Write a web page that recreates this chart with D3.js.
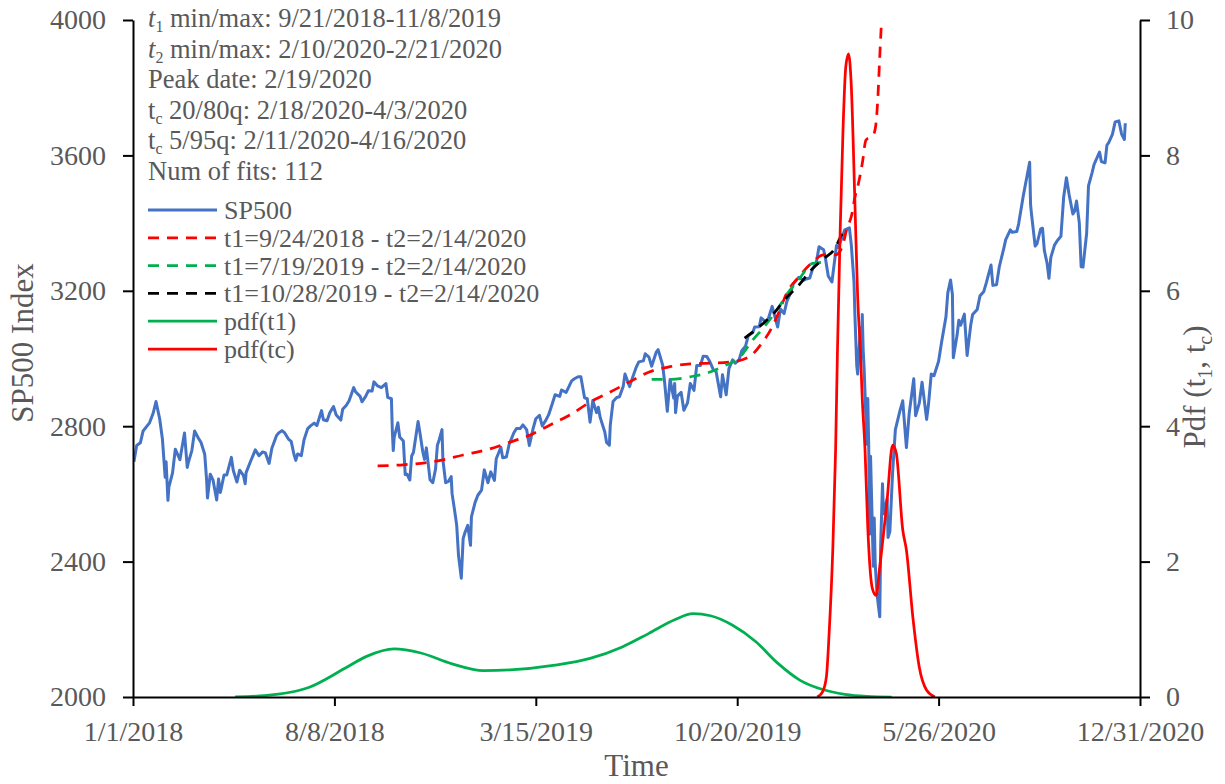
<!DOCTYPE html>
<html>
<head>
<meta charset="utf-8">
<script src="https://cdn.jsdelivr.net/npm/d3@7"></script>
<style>
body { margin: 0; background: #fff; }
svg text { font-family: "Liberation Serif", "Times New Roman", serif; fill: #595959; }
</style>
</head>
<body>
<script>
var width = 1225, height = 784;
// plot box (window.top is taken, so no "top" here)
var plotL = 133, plotR = 1140, plotT = 20, plotB = 697;

// tick values (excel style, every 219 days)
var xTickDates = ["2018-01-01","2018-08-08","2019-03-15","2019-10-20","2020-05-26","2020-12-31"];
var leftTicks = [2000,2400,2800,3200,3600,4000];
var rightTicks = [0,2,4,6,8,10];

// SP500 closes
var sp500 = [
["2018-01-02",2695],["2018-01-05",2743],["2018-01-09",2751],["2018-01-12",2786],["2018-01-17",2803],["2018-01-19",2810],
["2018-01-23",2839],["2018-01-26",2873],["2018-01-30",2822],["2018-02-02",2762],["2018-02-05",2649],["2018-02-06",2695],
["2018-02-08",2581],["2018-02-09",2620],["2018-02-13",2662],["2018-02-16",2732],["2018-02-21",2701],["2018-02-26",2780],
["2018-03-01",2678],["2018-03-02",2691],["2018-03-06",2728],["2018-03-09",2786],["2018-03-13",2765],["2018-03-16",2752],
["2018-03-20",2717],["2018-03-22",2643],["2018-03-23",2588],["2018-03-26",2658],["2018-03-29",2641],["2018-04-02",2582],
["2018-04-04",2644],["2018-04-06",2604],["2018-04-10",2656],["2018-04-13",2656],["2018-04-18",2708],["2018-04-20",2670],
["2018-04-24",2635],["2018-04-27",2670],["2018-05-01",2655],["2018-05-03",2630],["2018-05-04",2663],["2018-05-09",2697],
["2018-05-14",2730],["2018-05-18",2713],["2018-05-22",2724],["2018-05-25",2721],["2018-05-29",2690],["2018-06-01",2735],
["2018-06-06",2772],["2018-06-08",2779],["2018-06-12",2787],["2018-06-15",2780],["2018-06-19",2762],["2018-06-22",2755],
["2018-06-25",2717],["2018-06-27",2699],["2018-06-29",2718],["2018-07-03",2713],["2018-07-06",2760],["2018-07-10",2793],
["2018-07-13",2801],["2018-07-17",2809],["2018-07-20",2802],["2018-07-25",2846],["2018-07-27",2819],["2018-07-31",2816],
["2018-08-03",2840],["2018-08-07",2858],["2018-08-10",2833],["2018-08-15",2818],["2018-08-17",2850],["2018-08-21",2862],
["2018-08-24",2875],["2018-08-29",2914],["2018-08-31",2902],["2018-09-05",2888],["2018-09-07",2872],["2018-09-11",2888],
["2018-09-14",2905],["2018-09-18",2904],["2018-09-20",2931],["2018-09-24",2919],["2018-09-28",2914],["2018-10-03",2926],
["2018-10-05",2885],["2018-10-09",2881],["2018-10-10",2785],["2018-10-11",2728],["2018-10-12",2767],["2018-10-16",2810],
["2018-10-18",2768],["2018-10-22",2756],["2018-10-24",2657],["2018-10-26",2658],["2018-10-29",2641],["2018-10-31",2712],
["2018-11-02",2723],["2018-11-07",2814],["2018-11-09",2781],["2018-11-12",2726],["2018-11-14",2702],["2018-11-16",2736],
["2018-11-20",2642],["2018-11-23",2633],["2018-11-26",2674],["2018-11-28",2744],["2018-11-30",2760],["2018-12-03",2790],
["2018-12-04",2700],["2018-12-07",2633],["2018-12-10",2637],["2018-12-13",2651],["2018-12-14",2600],["2018-12-17",2546],
["2018-12-19",2507],["2018-12-21",2417],["2018-12-24",2351],["2018-12-26",2468],["2018-12-28",2486],["2018-12-31",2507],
["2019-01-03",2448],["2019-01-04",2532],["2019-01-08",2575],["2019-01-11",2596],["2019-01-15",2611],["2019-01-18",2671],
["2019-01-22",2633],["2019-01-25",2665],["2019-01-29",2640],["2019-01-31",2704],["2019-02-05",2738],["2019-02-07",2707],
["2019-02-11",2709],["2019-02-14",2746],["2019-02-19",2780],["2019-02-22",2793],["2019-02-26",2793],["2019-03-01",2804],
["2019-03-05",2790],["2019-03-08",2743],["2019-03-12",2792],["2019-03-15",2822],["2019-03-19",2832],["2019-03-22",2801],
["2019-03-26",2818],["2019-03-29",2834],["2019-04-02",2867],["2019-04-05",2893],["2019-04-10",2888],["2019-04-12",2907],
["2019-04-17",2900],["2019-04-23",2934],["2019-04-26",2940],["2019-04-30",2946],["2019-05-03",2946],["2019-05-07",2884],
["2019-05-10",2881],["2019-05-13",2812],["2019-05-16",2876],["2019-05-20",2840],["2019-05-22",2856],["2019-05-24",2826],
["2019-05-29",2783],["2019-05-31",2752],["2019-06-03",2744],["2019-06-04",2803],["2019-06-07",2873],["2019-06-11",2885],
["2019-06-14",2887],["2019-06-18",2917],["2019-06-20",2954],["2019-06-25",2917],["2019-06-28",2942],["2019-07-02",2973],
["2019-07-05",2990],["2019-07-10",2993],["2019-07-12",3014],["2019-07-16",3004],["2019-07-19",2977],["2019-07-24",3019],
["2019-07-26",3026],["2019-07-31",2980],["2019-08-02",2932],["2019-08-05",2844],["2019-08-08",2938],["2019-08-12",2883],
["2019-08-13",2926],["2019-08-14",2840],["2019-08-16",2889],["2019-08-20",2900],["2019-08-23",2847],["2019-08-27",2869],
["2019-08-30",2926],["2019-09-03",2906],["2019-09-06",2979],["2019-09-10",2979],["2019-09-13",3007],["2019-09-17",3006],
["2019-09-20",2992],["2019-09-24",2967],["2019-09-27",2962],["2019-10-02",2887],["2019-10-04",2952],["2019-10-08",2893],
["2019-10-11",2970],["2019-10-15",2996],["2019-10-18",2986],["2019-10-22",2996],["2019-10-25",3023],["2019-10-29",3036],
["2019-11-01",3067],["2019-11-06",3077],["2019-11-08",3093],["2019-11-13",3094],["2019-11-15",3120],["2019-11-20",3108],
["2019-11-22",3110],["2019-11-27",3154],["2019-12-03",3093],["2019-12-06",3146],["2019-12-10",3133],["2019-12-13",3169],
["2019-12-17",3193],["2019-12-20",3221],["2019-12-26",3240],["2019-12-31",3231],["2020-01-03",3235],["2020-01-07",3238],
["2020-01-10",3265],["2020-01-14",3283],["2020-01-17",3330],["2020-01-22",3321],["2020-01-24",3295],["2020-01-27",3244],
["2020-01-31",3226],["2020-02-05",3334],["2020-02-07",3328],["2020-02-11",3358],["2020-02-14",3380],["2020-02-19",3386],
["2020-02-21",3338],["2020-02-24",3226],["2020-02-25",3128],["2020-02-27",2979],["2020-02-28",2954],["2020-03-02",3091],
["2020-03-03",3003],["2020-03-04",3130],["2020-03-05",3024],["2020-03-06",2972],["2020-03-09",2747],["2020-03-10",2882],
["2020-03-11",2741],["2020-03-12",2481],["2020-03-13",2711],["2020-03-16",2386],["2020-03-17",2529],["2020-03-18",2398],
["2020-03-20",2305],["2020-03-23",2237],["2020-03-24",2447],["2020-03-26",2630],["2020-03-27",2541],["2020-03-31",2585],
["2020-04-01",2471],["2020-04-03",2489],["2020-04-06",2664],["2020-04-09",2790],["2020-04-14",2846],["2020-04-17",2875],
["2020-04-21",2737],["2020-04-24",2837],["2020-04-29",2940],["2020-05-01",2831],["2020-05-05",2868],["2020-05-08",2930],
["2020-05-13",2820],["2020-05-15",2864],["2020-05-18",2954],["2020-05-21",2949],["2020-05-26",2992],["2020-05-29",3044],
["2020-06-03",3123],["2020-06-05",3194],["2020-06-08",3232],["2020-06-10",3190],["2020-06-11",3002],["2020-06-15",3067],
["2020-06-17",3113],["2020-06-19",3098],["2020-06-23",3131],["2020-06-26",3009],["2020-06-30",3100],["2020-07-02",3130],
["2020-07-07",3145],["2020-07-10",3185],["2020-07-14",3197],["2020-07-17",3225],["2020-07-22",3276],["2020-07-24",3216],
["2020-07-28",3218],["2020-07-31",3271],["2020-08-05",3327],["2020-08-07",3351],["2020-08-12",3380],["2020-08-14",3373],
["2020-08-19",3375],["2020-08-21",3397],["2020-08-26",3479],["2020-08-28",3508],["2020-09-02",3580],["2020-09-03",3455],
["2020-09-04",3427],["2020-09-08",3332],["2020-09-10",3339],["2020-09-14",3383],["2020-09-16",3385],["2020-09-18",3319],
["2020-09-21",3281],["2020-09-23",3237],["2020-09-25",3298],["2020-09-29",3335],["2020-10-02",3348],["2020-10-06",3361],
["2020-10-09",3477],["2020-10-12",3534],["2020-10-15",3483],["2020-10-19",3427],["2020-10-21",3436],["2020-10-23",3465],
["2020-10-26",3401],["2020-10-28",3271],["2020-10-30",3270],["2020-11-03",3370],["2020-11-05",3510],["2020-11-09",3550],
["2020-11-11",3573],["2020-11-13",3585],["2020-11-17",3610],["2020-11-19",3582],["2020-11-23",3578],["2020-11-25",3630],
["2020-11-27",3638],["2020-12-01",3662],["2020-12-04",3699],["2020-12-08",3702],["2020-12-11",3663],["2020-12-14",3647],
["2020-12-15",3695]
];

// fitted curves (left axis)
var fitRed = [
["2018-09-24",2683],["2018-10-22",2686],["2018-11-27",2697],["2018-12-26",2715],["2019-01-24",2733],["2019-02-15",2753],
["2019-03-09",2774],["2019-03-30",2803],["2019-04-21",2833],["2019-05-13",2871],["2019-06-04",2901],["2019-06-25",2931],
["2019-07-17",2961],["2019-08-08",2976],["2019-08-30",2984],["2019-09-20",2986],["2019-10-14",2990],["2019-11-02",3005],
["2019-11-16",3046],["2019-11-27",3093],["2019-12-04",3135],["2019-12-13",3194],["2019-12-26",3241],["2020-01-09",3282],
["2020-01-22",3306],["2020-02-04",3306],["2020-02-11",3329],["2020-02-16",3380],["2020-02-22",3430],["2020-02-25",3477],
["2020-02-28",3507],["2020-03-04",3576],["2020-03-08",3645],["2020-03-16",3660],["2020-03-19",3696],["2020-03-21",3773],
["2020-03-23",3891],["2020-03-25",4002]
];
var fitGreen = [
["2019-07-19",2938],["2019-08-08",2938],["2019-08-30",2946],["2019-09-17",2957],["2019-10-04",2976],["2019-10-23",3005],
["2019-11-06",3055],["2019-11-17",3089],["2019-12-02",3143],["2019-12-14",3193],["2019-12-27",3237],["2020-01-10",3281],
["2020-01-27",3285]
];
var fitBlack = [
["2019-10-28",3060],["2019-11-14",3096],["2019-11-29",3134],["2019-12-11",3175],["2019-12-27",3220],["2020-01-08",3260],
["2020-01-23",3297],["2020-02-02",3320],["2020-02-12",3372],["2020-02-15",3383]
];

// densities (right axis)
var pdfT1 = [
["2018-04-22",0],["2018-05-24",0.02],["2018-07-11",0.14],["2018-08-19",0.42],["2018-09-12",0.6],["2018-10-12",0.71],
["2018-11-10",0.65],["2018-12-14",0.49],["2019-01-17",0.39],["2019-02-15",0.4],["2019-04-05",0.47],["2019-05-13",0.57],
["2019-06-17",0.74],["2019-07-16",0.94],["2019-08-13",1.14],["2019-09-02",1.23],["2019-09-21",1.2],["2019-10-15",1.06],
["2019-11-09",0.82],["2019-12-03",0.5],["2019-12-27",0.25],["2020-01-21",0.11],["2020-02-14",0.04],["2020-03-09",0.01],
["2020-04-05",0]
];
var pdfTc = [
["2020-01-15",0],["2020-01-21",0.08],["2020-01-25",0.3],["2020-01-28",0.95],["2020-02-01",2.2],["2020-02-04",3.65],
["2020-02-06",5.1],["2020-02-09",6.9],["2020-02-12",8.35],["2020-02-15",9.3],["2020-02-18",9.5],["2020-02-21",9.05],
["2020-02-25",7.3],["2020-02-28",5.9],["2020-03-02",5.1],["2020-03-04",4.4],["2020-03-07",3.65],["2020-03-10",2.5],
["2020-03-15",1.6],["2020-03-19",1.5],["2020-03-23",1.92],["2020-03-31",2.91],["2020-04-06",3.72],["2020-04-10",3.6],
["2020-04-17",2.47],["2020-04-21",2.17],["2020-04-28",1.18],["2020-05-05",0.44],["2020-05-13",0.1],["2020-05-22",0]
];

// text block top-left: [text, kind]
var infoLines = [
  [["t","it"],["1","sub"],[" min/max: 9/21/2018-11/8/2019",""]],
  [["t","it"],["2","sub"],[" min/max: 2/10/2020-2/21/2020",""]],
  [["Peak date: 2/19/2020",""]],
  [["t",""],["c","sub"],[" 20/80q: 2/18/2020-4/3/2020",""]],
  [["t",""],["c","sub"],[" 5/95q: 2/11/2020-4/16/2020",""]],
  [["Num of fits: 112",""]]
];
var legendLabels = ["SP500","t1=9/24/2018 - t2=2/14/2020","t1=7/19/2019 - t2=2/14/2020","t1=10/28/2019 - t2=2/14/2020","pdf(t1)","pdf(tc)"];

var parse = d3.timeParse("%Y-%m-%d");

var x = d3.scaleTime()
    .domain([parse("2018-01-01"), parse("2020-12-31")])
    .range([plotL, plotR]);
var y = d3.scaleLinear().domain([2000, 4000]).range([plotB, plotT]);
var y2 = d3.scaleLinear().domain([0, 10]).range([plotB, plotT]);

var svg = d3.select("body").append("svg")
    .attr("width", width)
    .attr("height", height);

svg.append("clipPath").attr("id", "plot")
  .append("rect")
    .attr("x", plotL).attr("y", plotT)
    .attr("width", plotR - plotL).attr("height", plotB - plotT);

var lineL = d3.line()
    .x(function(d){ return x(parse(d[0])); })
    .y(function(d){ return y(d[1]); });
var smoothL = d3.line()
    .curve(d3.curveMonotoneX)
    .x(function(d){ return x(parse(d[0])); })
    .y(function(d){ return y(d[1]); });
var smoothR = d3.line()
    .curve(d3.curveMonotoneX)
    .x(function(d){ return x(parse(d[0])); })
    .y(function(d){ return y2(d[1]); });

var g = svg.append("g").attr("clip-path", "url(#plot)");

// styles for the six series, same order as the legend
var styles = [
  {color: "#4472C4", dash: null},
  {color: "#FF0000", dash: "11,8"},
  {color: "#00B050", dash: "11,8"},
  {color: "#000000", dash: "11,8"},
  {color: "#00B050", dash: null},
  {color: "#FF0000", dash: null}
];

g.append("path").datum(sp500)
    .attr("d", lineL)
    .attr("fill", "none")
    .attr("stroke", styles[0].color)
    .attr("stroke-width", 3)
    .attr("stroke-linejoin", "round");

[fitRed, fitGreen, fitBlack].forEach(function(fit, i){
  g.append("path").datum(fit)
    .attr("d", smoothL)
    .attr("fill", "none")
    .attr("stroke", styles[i+1].color)
    .attr("stroke-width", 2.75)
    .attr("stroke-dasharray", styles[i+1].dash);
});

[pdfT1, pdfTc].forEach(function(pdf, i){
  g.append("path").datum(pdf)
    .attr("d", smoothR)
    .attr("fill", "none")
    .attr("stroke", styles[i+4].color)
    .attr("stroke-width", 2.75);
});

// axes
function styleAxis(sel){
  sel.attr("font-family", null).attr("font-size", null);
  sel.selectAll(".domain").attr("stroke", "#000").attr("stroke-width", 2);
  sel.selectAll(".tick line").attr("stroke", "#000").attr("stroke-width", 2);
  sel.selectAll(".tick text").style("font-size", "28px").attr("fill", "#595959");
}

svg.append("g")
    .attr("transform", "translate(" + plotL + ",0)")
    .call(d3.axisLeft(y).tickValues(leftTicks).tickFormat(d3.format("d"))
        .tickSizeInner(10).tickSizeOuter(0).tickPadding(17))
    .call(styleAxis);

svg.append("g")
    .attr("transform", "translate(" + plotR + ",0)")
    .call(d3.axisRight(y2).tickValues(rightTicks).tickFormat(d3.format("d"))
        .tickSizeInner(10).tickSizeOuter(0).tickPadding(16))
    .call(styleAxis);

svg.append("g")
    .attr("transform", "translate(0," + plotB + ")")
    .call(d3.axisBottom(x).tickValues(xTickDates.map(parse))
        .tickFormat(d3.timeFormat("%-m/%-d/%Y"))
        .tickSizeInner(9).tickSizeOuter(0).tickPadding(15))
    .call(styleAxis);

// axis titles
svg.append("text")
    .attr("x", (plotL + plotR) / 2)
    .attr("y", 776)
    .attr("text-anchor", "middle")
    .style("font-size", "31px")
    .text("Time");

svg.append("text")
    .attr("transform", "translate(33,343) rotate(-90)")
    .attr("text-anchor", "middle")
    .style("font-size", "31px")
    .text("SP500 Index");

var rt = svg.append("text")
    .attr("transform", "translate(1205,387) rotate(-90)")
    .attr("text-anchor", "middle")
    .style("font-size", "31px");
rt.append("tspan").text("Pdf (t");
rt.append("tspan").attr("dy", 7).style("font-size", "20px").text("1");
rt.append("tspan").attr("dy", -7).text(", t");
rt.append("tspan").attr("dy", 7).style("font-size", "20px").text("c");
rt.append("tspan").attr("dy", -7).text(")");

// info text
infoLines.forEach(function(parts, i){
  var t = svg.append("text")
      .attr("x", 148)
      .attr("y", 27 + i * 30.6)
      .style("font-size", "26.5px")
      .style("white-space", "pre");
  var shifted = false;
  parts.forEach(function(p){
    var s = t.append("tspan").text(p[0]);
    if (p[1] == "it") s.style("font-style", "italic");
    if (p[1] == "sub") {
      s.attr("dy", 5).style("font-size", "16px");
      shifted = true;
    } else if (shifted) {
      s.attr("dy", -5);
      shifted = false;
    }
  });
});

// legend
legendLabels.forEach(function(label, i){
  var ly = 210 + i * 27.8;
  svg.append("line")
      .attr("x1", 148).attr("x2", 217)
      .attr("y1", ly).attr("y2", ly)
      .attr("stroke", styles[i].color)
      .attr("stroke-width", i == 0 ? 3 : 2.75)
      .attr("stroke-dasharray", styles[i].dash);
  svg.append("text")
      .attr("x", 224)
      .attr("y", ly + 9)
      .style("font-size", "26px")
      .text(label);
});
</script>
</body>
</html>
